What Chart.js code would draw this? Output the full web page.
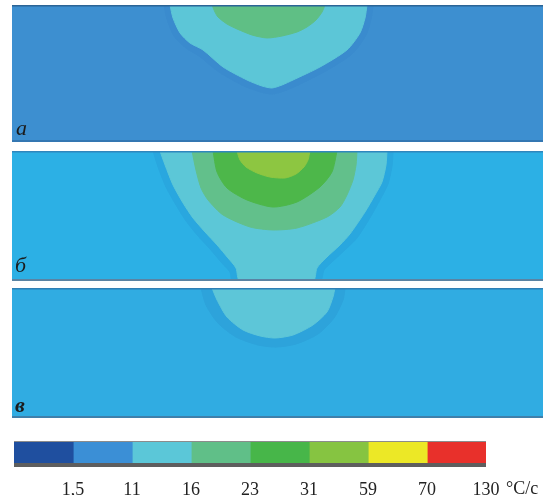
<!DOCTYPE html>
<html>
<head>
<meta charset="utf-8">
<script src="https://cdn.jsdelivr.net/npm/chart.js@4/dist/chart.umd.min.js"></script>
<style>
  html, body { margin: 0; padding: 0; background: #ffffff; width: 543px; height: 495px; overflow: hidden; }
  .box { position: absolute; }
  .box canvas { display: block; }
  .tag { position: absolute; font-family: "Liberation Serif", serif; font-style: italic; font-size: 22px; line-height: 1; color: #1b1b1b; }
  .unit { position: absolute; font-family: "Liberation Serif", serif; font-size: 18px; line-height: 1; color: #222; }
</style>
</head>
<body>
<div class="box" style="left:12px;top:5px"><canvas id="panelA" width="531" height="137"></canvas></div>
<div class="box" style="left:12px;top:151px"><canvas id="panelB" width="531" height="130"></canvas></div>
<div class="box" style="left:12px;top:288px"><canvas id="panelC" width="531" height="130"></canvas></div>
<div class="box" style="left:8px;top:441px"><canvas id="scaleBar" width="535" height="54"></canvas></div>
<div class="tag" style="left:16px;top:117px">а</div>
<div class="tag" style="left:15px;top:254px">б</div>
<div class="tag" style="left:15px;top:394px;font-weight:bold">в</div>
<div class="unit" style="left:506px;top:479px">°C/с</div>

<script>
// Cooling-rate levels, °C/с, and the colour of each band
const levels = ['1,5', '11', '16', '23', '31', '59', '70', '130'];
const levelColors = ['#1f4f9f', '#3b8fd6', '#5bc7d8', '#60bf88', '#47b649', '#86c441', '#ece826', '#e8302b'];

// Cross-section extent, mm (x across the plate, y depth from the top surface)
const sectionX = [-31, 31];
const depthA = 16.0;
const depthB = 15.18;
const depthC = 15.18;

// Section а: isoline boundaries [x, depth]
const aHalo = [[-13.25,0],[-12.9,1.63],[-12.08,3.62],[-10.68,5.02],[-9.17,5.95],[-6.83,7.82],[-3.91,9.46],[-1.93,10.16],[-0.64,10.39],[0.76,10.04],[2.16,9.46],[5.43,7.82],[8.7,5.72],[10.33,3.5],[10.92,1.63],[11.15,0]];
const a16 = [[-12.55,0],[-12.2,1.52],[-11.38,3.27],[-10.22,4.44],[-8.7,5.25],[-6.36,7.24],[-3.56,8.76],[-1.81,9.46],[-0.64,9.69],[0.53,9.34],[1.81,8.76],[4.96,7.24],[8.11,5.25],[9.63,3.27],[10.22,1.52],[10.45,0]];
const a23 = [[-7.65,0],[-7.3,0.82],[-6.95,1.4],[-5.9,2.22],[-4.73,2.8],[-2.98,3.5],[-1.23,3.85],[0.53,3.62],[2.28,3.15],[3.44,2.57],[4.5,1.75],[5.2,0.82],[5.55,0]];

// Section б
const bHalo = [[-14.53,0],[-13.95,1.87],[-13.02,4.2],[-11.85,6.3],[-10.68,8.17],[-9.28,9.92],[-7.88,11.44],[-6.6,12.96],[-5.55,14.13],[-5.2,15.18],[4.96,15.18],[5.43,13.89],[6.36,12.96],[8.0,11.44],[9.28,10.16],[10.92,7.59],[12.08,5.49],[12.9,3.85],[13.37,1.75],[13.49,0]];
const b16 = [[-13.72,0],[-13.13,1.63],[-12.2,3.97],[-11.03,6.07],[-9.87,7.82],[-8.46,9.46],[-7.06,10.97],[-5.78,12.49],[-4.85,13.66],[-4.38,15.18],[4.14,15.18],[4.61,13.66],[5.66,12.49],[7.3,10.97],[8.46,9.69],[10.22,7.12],[11.38,5.14],[12.2,3.62],[12.67,1.63],[12.78,0]];
const b23 = [[-9.98,0],[-9.52,2.22],[-8.93,4.32],[-8.11,5.72],[-6.36,7.47],[-3.21,8.87],[-0.53,9.22],[2.28,8.99],[5.78,7.71],[7.3,6.54],[8.11,5.14],[8.81,3.39],[9.17,1.63],[9.28,0]];
const b31 = [[-7.53,0],[-7.06,2.45],[-5.9,4.32],[-3.56,5.72],[-0.53,6.54],[2.28,5.95],[4.96,4.2],[6.36,2.45],[6.95,0]];
const b59 = [[-4.73,0],[-4.38,1.05],[-3.68,1.87],[-2.39,2.57],[-0.88,3.04],[0.88,3.15],[2.16,2.69],[3.09,1.87],[3.56,1.05],[3.79,0]];

// Section в
const cHalo = [[-8.93,0],[-8.35,1.98],[-6.95,4.09],[-4.85,5.72],[-2.28,6.65],[-0.18,6.89],[2.16,6.54],[4.73,5.37],[6.6,3.5],[7.65,1.4],[7.88,0]];
const c16 = [[-7.65,0],[-7.06,1.4],[-5.9,3.39],[-4.03,4.9],[-2.04,5.6],[-0.29,5.84],[1.81,5.49],[4.14,4.32],[5.78,2.8],[6.48,1.05],[6.71,0]];

// Fills the section background and draws its upper and lower edges
const panelFrame = {
  id: 'panelFrame',
  beforeDraw(chart, args, opts) {
    const { ctx, chartArea: a } = chart;
    ctx.save();
    ctx.fillStyle = opts.bg;
    ctx.fillRect(a.left, a.top, a.right - a.left, a.bottom - a.top);
    ctx.restore();
  },
  afterDraw(chart, args, opts) {
    const { ctx, chartArea: a } = chart;
    ctx.save();
    ctx.fillStyle = opts.topEdge;
    ctx.fillRect(a.left, a.top, a.right - a.left, 1.5);
    ctx.fillStyle = opts.bottomEdge;
    ctx.fillRect(a.left, a.bottom - 2, a.right - a.left, 2);
    ctx.restore();
  }
};

// Thin rim above and a darker shadow strip below the colour scale
const scaleRim = {
  id: 'scaleRim',
  afterDatasetsDraw(chart) {
    const { ctx, chartArea: a } = chart;
    ctx.save();
    ctx.fillStyle = '#8c8c8c';
    ctx.fillRect(a.left, a.top, a.right - a.left, 1);
    ctx.fillStyle = '#5e5e5e';
    ctx.fillRect(a.left, a.bottom - 4, a.right - a.left, 4);
    ctx.restore();
  }
};

function region(points, color, order) {
  return {
    data: points.map(([x, y]) => ({ x, y })),
    backgroundColor: color,
    borderColor: color,
    borderWidth: 1,
    pointRadius: 0,
    tension: 0.25,
    fill: { value: 0 },
    order
  };
}

function section(id, depth, frame, regions) {
  new Chart(document.getElementById(id), {
    type: 'line',
    data: { datasets: regions.map((r, i) => region(r[0], r[1], i)) },
    options: {
      responsive: false,
      animation: false,
      events: [],
      layout: { padding: 0 },
      plugins: { legend: { display: false }, tooltip: { enabled: false }, panelFrame: frame },
      scales: {
        x: { type: 'linear', display: false, min: sectionX[0], max: sectionX[1] },
        y: { type: 'linear', display: false, reverse: true, min: 0, max: depth }
      }
    },
    plugins: [panelFrame]
  });
}

// innermost band first so it is painted on top
section('panelA', depthA, { bg: '#3d8fd0', topEdge: '#2b6496', bottomEdge: '#3477b2' }, [
  [a23, '#5fbf85'],
  [a16, '#5cc6d7'],
  [aHalo, '#3a8bce']
]);
section('panelB', depthB, { bg: '#2cb0e5', topEdge: '#2f86bd', bottomEdge: '#5a83a3' }, [
  [b59, '#8dc641'],
  [b31, '#4db74a'],
  [b23, '#62c08b'],
  [b16, '#5cc7d7'],
  [bHalo, '#29a7df']
]);
section('panelC', depthC, { bg: '#30ace2', topEdge: '#2f7fb5', bottomEdge: '#3f80ab' }, [
  [c16, '#5dc6d8'],
  [cHalo, '#2da3db']
]);

// Colour scale: one stacked segment per level, tick labels at the upper bound of each band
new Chart(document.getElementById('scaleBar'), {
  type: 'bar',
  data: {
    labels: [''],
    datasets: levels.map((lv, i) => ({
      label: lv,
      data: [1],
      backgroundColor: levelColors[i],
      borderWidth: 0,
      inflateAmount: 0.6,
      barPercentage: 1,
      categoryPercentage: 1
    }))
  },
  options: {
    indexAxis: 'y',
    responsive: false,
    animation: false,
    events: [],
    layout: { padding: { left: 6, right: 57, top: 0, bottom: 0 } },
    plugins: { legend: { display: false }, tooltip: { enabled: false } },
    scales: {
      x: {
        stacked: true, min: 0, max: levels.length,
        grid: { display: false }, border: { display: false },
        ticks: {
          stepSize: 1, autoSkip: false, maxRotation: 0, padding: 4,
          color: '#222', font: { family: 'Liberation Serif', size: 18 },
          callback: v => (v > 0 ? levels[v - 1] : '')
        },
        afterFit: s => { s.height = 28; }
      },
      y: { stacked: true, display: false }
    }
  },
  plugins: [scaleRim]
});
</script>
</body>
</html>
